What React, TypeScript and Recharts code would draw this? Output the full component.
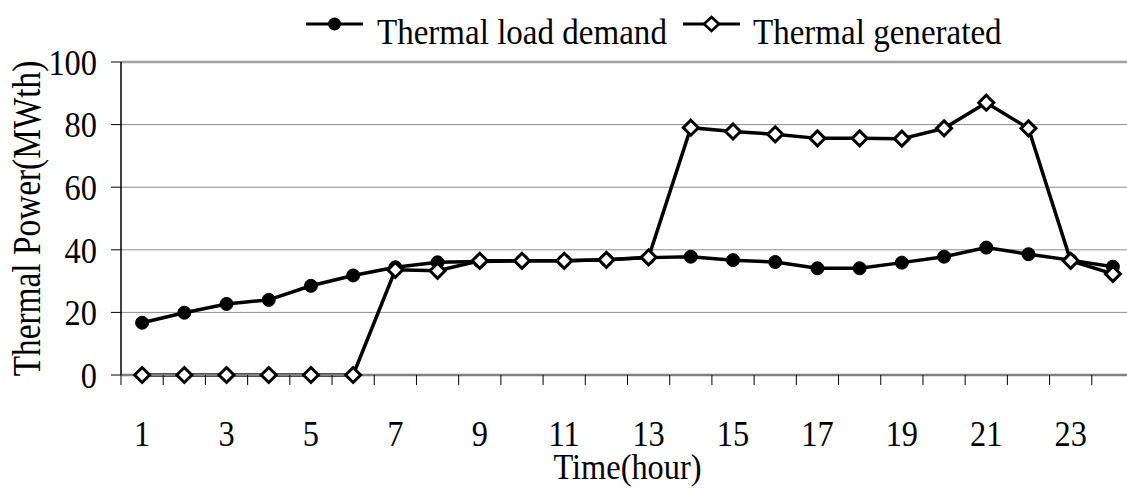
import React from 'react';
import { LineChart, Line, XAxis, YAxis, CartesianGrid, Legend, ReferenceLine, Label } from 'recharts';

const hours = [1, 2, 3, 4, 5, 6, 7, 8, 9, 10, 11, 12, 13, 14, 15, 16, 17, 18, 19, 20, 21, 22, 23, 24];
const loadDemand = [16.7, 19.9, 22.7, 24.0, 28.5, 31.8, 34.4, 36.0, 36.3, 36.5, 36.5, 36.8, 37.5, 37.8, 36.7, 36.1, 34.1, 34.1, 35.9, 37.8, 40.7, 38.6, 36.7, 34.6];
const thermalGenerated = [0, 0, 0, 0, 0, 0, 33.6, 33.3, 36.5, 36.5, 36.5, 36.8, 37.6, 79.0, 77.8, 76.9, 75.6, 75.6, 75.5, 78.8, 87.0, 78.8, 36.5, 32.3];
const xLabelHours = [1, 3, 5, 7, 9, 11, 13, 15, 17, 19, 21, 23];
const yTicks = [0, 20, 40, 60, 80, 100];
const seriesNames = ['Thermal load demand', 'Thermal generated'];
const yTitle = 'Thermal Power(MWth)';
const xTitle = 'Time(hour)';

const data = hours.map((h, i) => ({ hour: h, load: loadDemand[i], gen: thermalGenerated[i] }));
const xBoundaries = [...hours.map((h) => h - 0.5), hours[hours.length - 1] + 0.5];
const xTicks = [...xBoundaries, ...xLabelHours].sort((a, b) => a - b);

const FONT = '"Liberation Serif", "Times New Roman", serif';
const FS = 36;
const SX = 0.9;
const TICK_SIZE = 10;
const X_TICK_MARGIN = 35;

const XTick = (props: any) => {
  const { x, y, payload } = props;
  const v = payload.value;
  if (Number.isInteger(v)) {
    return (
      <text
        transform={`translate(${x},${y}) scale(${SX},1)`}
        x={0}
        y={0}
        dy="0.71em"
        textAnchor="middle"
        fontFamily={FONT}
        fontSize={FS}
        fill="#000"
      >
        {v}
      </text>
    );
  }
  const top = y - X_TICK_MARGIN - TICK_SIZE;
  return <line x1={x} x2={x} y1={top} y2={top + TICK_SIZE} stroke="#000" strokeWidth={1} />;
};

const YTick = (props: any) => {
  const { x, y, payload } = props;
  return (
    <text
      transform={`translate(${x},${y}) scale(${SX},1)`}
      x={0}
      y={0}
      dy="0.355em"
      textAnchor="end"
      fontFamily={FONT}
      fontSize={FS}
      fill="#000"
    >
      {payload.value}
    </text>
  );
};

const XTitle = (props: any) => {
  const vb = props.viewBox || {};
  const cx = vb.x + vb.width / 2;
  const by = vb.y + vb.height + 23;
  return (
    <text transform={`translate(${cx},${by}) scale(${SX},1)`} x={0} y={0} textAnchor="middle" fontFamily={FONT} fontSize={FS} fill="#000">
      {xTitle}
    </text>
  );
};

const YTitle = (props: any) => {
  const vb = props.viewBox || {};
  const cx = vb.x + 39.5;
  const cy = vb.y + vb.height / 2;
  return (
    <text transform={`translate(${cx},${cy}) rotate(-90) scale(0.855,1)`} x={0} y={0} textAnchor="middle" fontFamily={FONT} fontSize={39} fill="#000">
      {yTitle}
    </text>
  );
};

const Diamond = (props: any) => {
  const { cx, cy, index } = props;
  const s = 7.5;
  if (cx == null || cy == null) return <g key={`d-${index}`} />;
  return (
    <path
      key={`d-${index}`}
      d={`M${cx},${cy - s} L${cx + s},${cy} L${cx},${cy + s} L${cx - s},${cy} Z`}
      fill="#fff"
      stroke="#000"
      strokeWidth={3}
    />
  );
};

const legendLayout = [
  { icon: 306, text: 377 },
  { icon: 683, text: 753 },
];

const LegendContent = () => (
  <svg width={1127} height={52} style={{ display: 'block' }}>
    {seriesNames.map((name, i) => {
      const { icon, text } = legendLayout[i];
      const mid = icon + 28.5;
      return (
        <g key={name}>
          <line x1={icon} x2={icon + 57} y1={24} y2={24} stroke="#000" strokeWidth={3} />
          {i === 0 ? (
            <circle cx={mid} cy={24} r={6.5} fill="#000" />
          ) : (
            <path d={`M${mid},17 L${mid + 7.5},24 L${mid},31 L${mid - 7.5},24 Z`} fill="#fff" stroke="#000" strokeWidth={2.6} />
          )}
          <text transform={`translate(${text},44) scale(0.918,1)`} x={0} y={0} fontFamily={FONT} fontSize={FS} fill="#000">
            {name}
          </text>
        </g>
      );
    })}
  </svg>
);

export default function App() {
  return (
    <div style={{ position: 'absolute', left: 0, top: 0, width: 1127, height: 488, overflow: 'hidden', background: '#fff' }}>
      <LineChart width={1144} height={488} data={data} margin={{ top: 62, right: 10, bottom: 32, left: 0 }}>
        <CartesianGrid vertical={false} stroke="#8c8c8c" strokeWidth={1} />
        <ReferenceLine y={100} stroke="#a0a0a0" strokeWidth={2.5} />
        <XAxis
          dataKey="hour"
          type="number"
          domain={[0.5, 24.5]}
          ticks={xTicks}
          interval={0}
          height={81}
          tickSize={TICK_SIZE}
          tickMargin={X_TICK_MARGIN}
          tickLine={false}
          axisLine={{ stroke: '#808080', strokeWidth: 2.5 }}
          tick={<XTick />}
        >
          <Label position="bottom" content={<XTitle />} />
        </XAxis>
        <YAxis
          width={121}
          domain={[0, 100]}
          ticks={yTicks}
          interval={0}
          tickSize={TICK_SIZE}
          tickMargin={14}
          axisLine={{ stroke: '#000', strokeWidth: 1.5 }}
          tickLine={{ stroke: '#000', strokeWidth: 1 }}
          tick={<YTick />}
        >
          <Label position="center" content={<YTitle />} />
        </YAxis>
        <Legend
          layout="horizontal"
          verticalAlign="middle"
          align="center"
          wrapperStyle={{ top: 0, left: 0, width: 1127, height: 52 }}
          content={<LegendContent />}
        />
        <Line
          type="linear"
          dataKey="load"
          name={seriesNames[0]}
          stroke="#000"
          strokeWidth={3.5}
          dot={{ r: 6.5, fill: '#000', stroke: '#000', strokeWidth: 1 }}
          activeDot={false}
          isAnimationActive={false}
        />
        <Line
          type="linear"
          dataKey="gen"
          name={seriesNames[1]}
          stroke="#000"
          strokeWidth={3.5}
          dot={Diamond}
          activeDot={false}
          isAnimationActive={false}
        />
      </LineChart>
    </div>
  );
}
